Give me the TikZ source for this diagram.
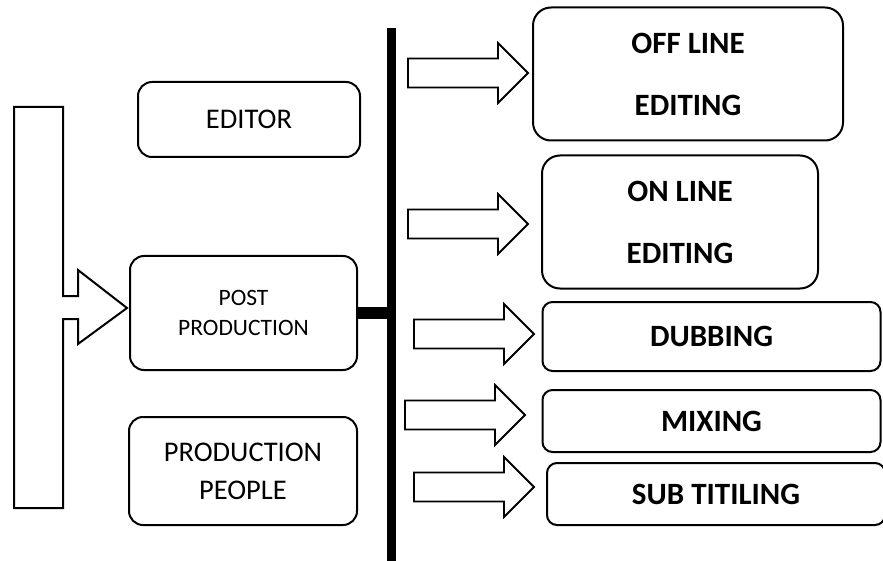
\documentclass[tikz,border=0pt]{standalone}
\usepackage{fontspec}
\setmainfont{Carlito}
\usetikzlibrary{calc}

\begin{document}
\begin{tikzpicture}[x=1pt,y=-1pt,line width=2pt,
  box/.style={draw,rounded corners=#1,align=center,inner sep=0pt},
  box/.default=14pt,
  plain/.style={font=\fontsize{28.5}{38}\selectfont},
  heavy/.style={font=\fontsize{31}{62}\selectfont\bfseries},
  blockarr/.pic={\draw[line width=1.8pt,line join=miter]
    (-120,-14.5) -- (-30,-14.5) -- (-30,-30) -- (0,0) -- (-30,30) -- (-30,14.5) -- (-120,14.5) -- cycle;}]
  \useasboundingbox (0,0) rectangle (883,561);
  % left column
  \node[box,plain,minimum width=222pt,minimum height=75pt] (editor) at (249,119.5) {EDITOR};
  \node[box,font=\fontsize{23.5}{30}\selectfont,minimum width=227pt,minimum height=114pt] (post) at (243.5,313) {POST\\PRODUCTION};
  \node[box,plain,minimum width=228pt,minimum height=108pt] (people) at (243,471) {PRODUCTION\\PEOPLE};
  % right column
  \node[box=18pt,heavy,minimum width=310pt,minimum height=133pt] (offline) at (688,74) {OFF LINE\\EDITING};
  \node[box=18pt,heavy,minimum width=276pt,minimum height=133pt] (online) at (680,222) {ON LINE\\EDITING};
  \foreach \n/\x/\y/\h/\t in {dubbing/711.5/336.5/69/DUBBING, mixing/711.5/421/62/MIXING, subtitling/716/494/62/SUB TITILING}
    \node[box=10pt,heavy,minimum width=338pt,minimum height=\h pt] (\n) at (\x,\y) {\t};
  % spine and link
  \coordinate (spinetop) at (391.5,28);
  \coordinate (spinebot) at (391.5,561);
  \draw[line width=9pt] (spinetop) -- (spinebot);
  \draw[line width=12pt] (post.east) -- (post.east -| spinetop);
  % block arrows
  \foreach \x/\y in {528/73, 528/224, 534/334, 525/415, 534/487}
    \pic at (\x,\y) {blockarr};
  % big input arrow
  \draw[line join=miter] (14,107) -- (63,107) -- (63,296) -- (78,296) -- (78,270) -- (127,308)
    -- (78,344) -- (78,319) -- (63,319) -- (63,508) -- (14,508) -- cycle;
\end{tikzpicture}
\end{document}
